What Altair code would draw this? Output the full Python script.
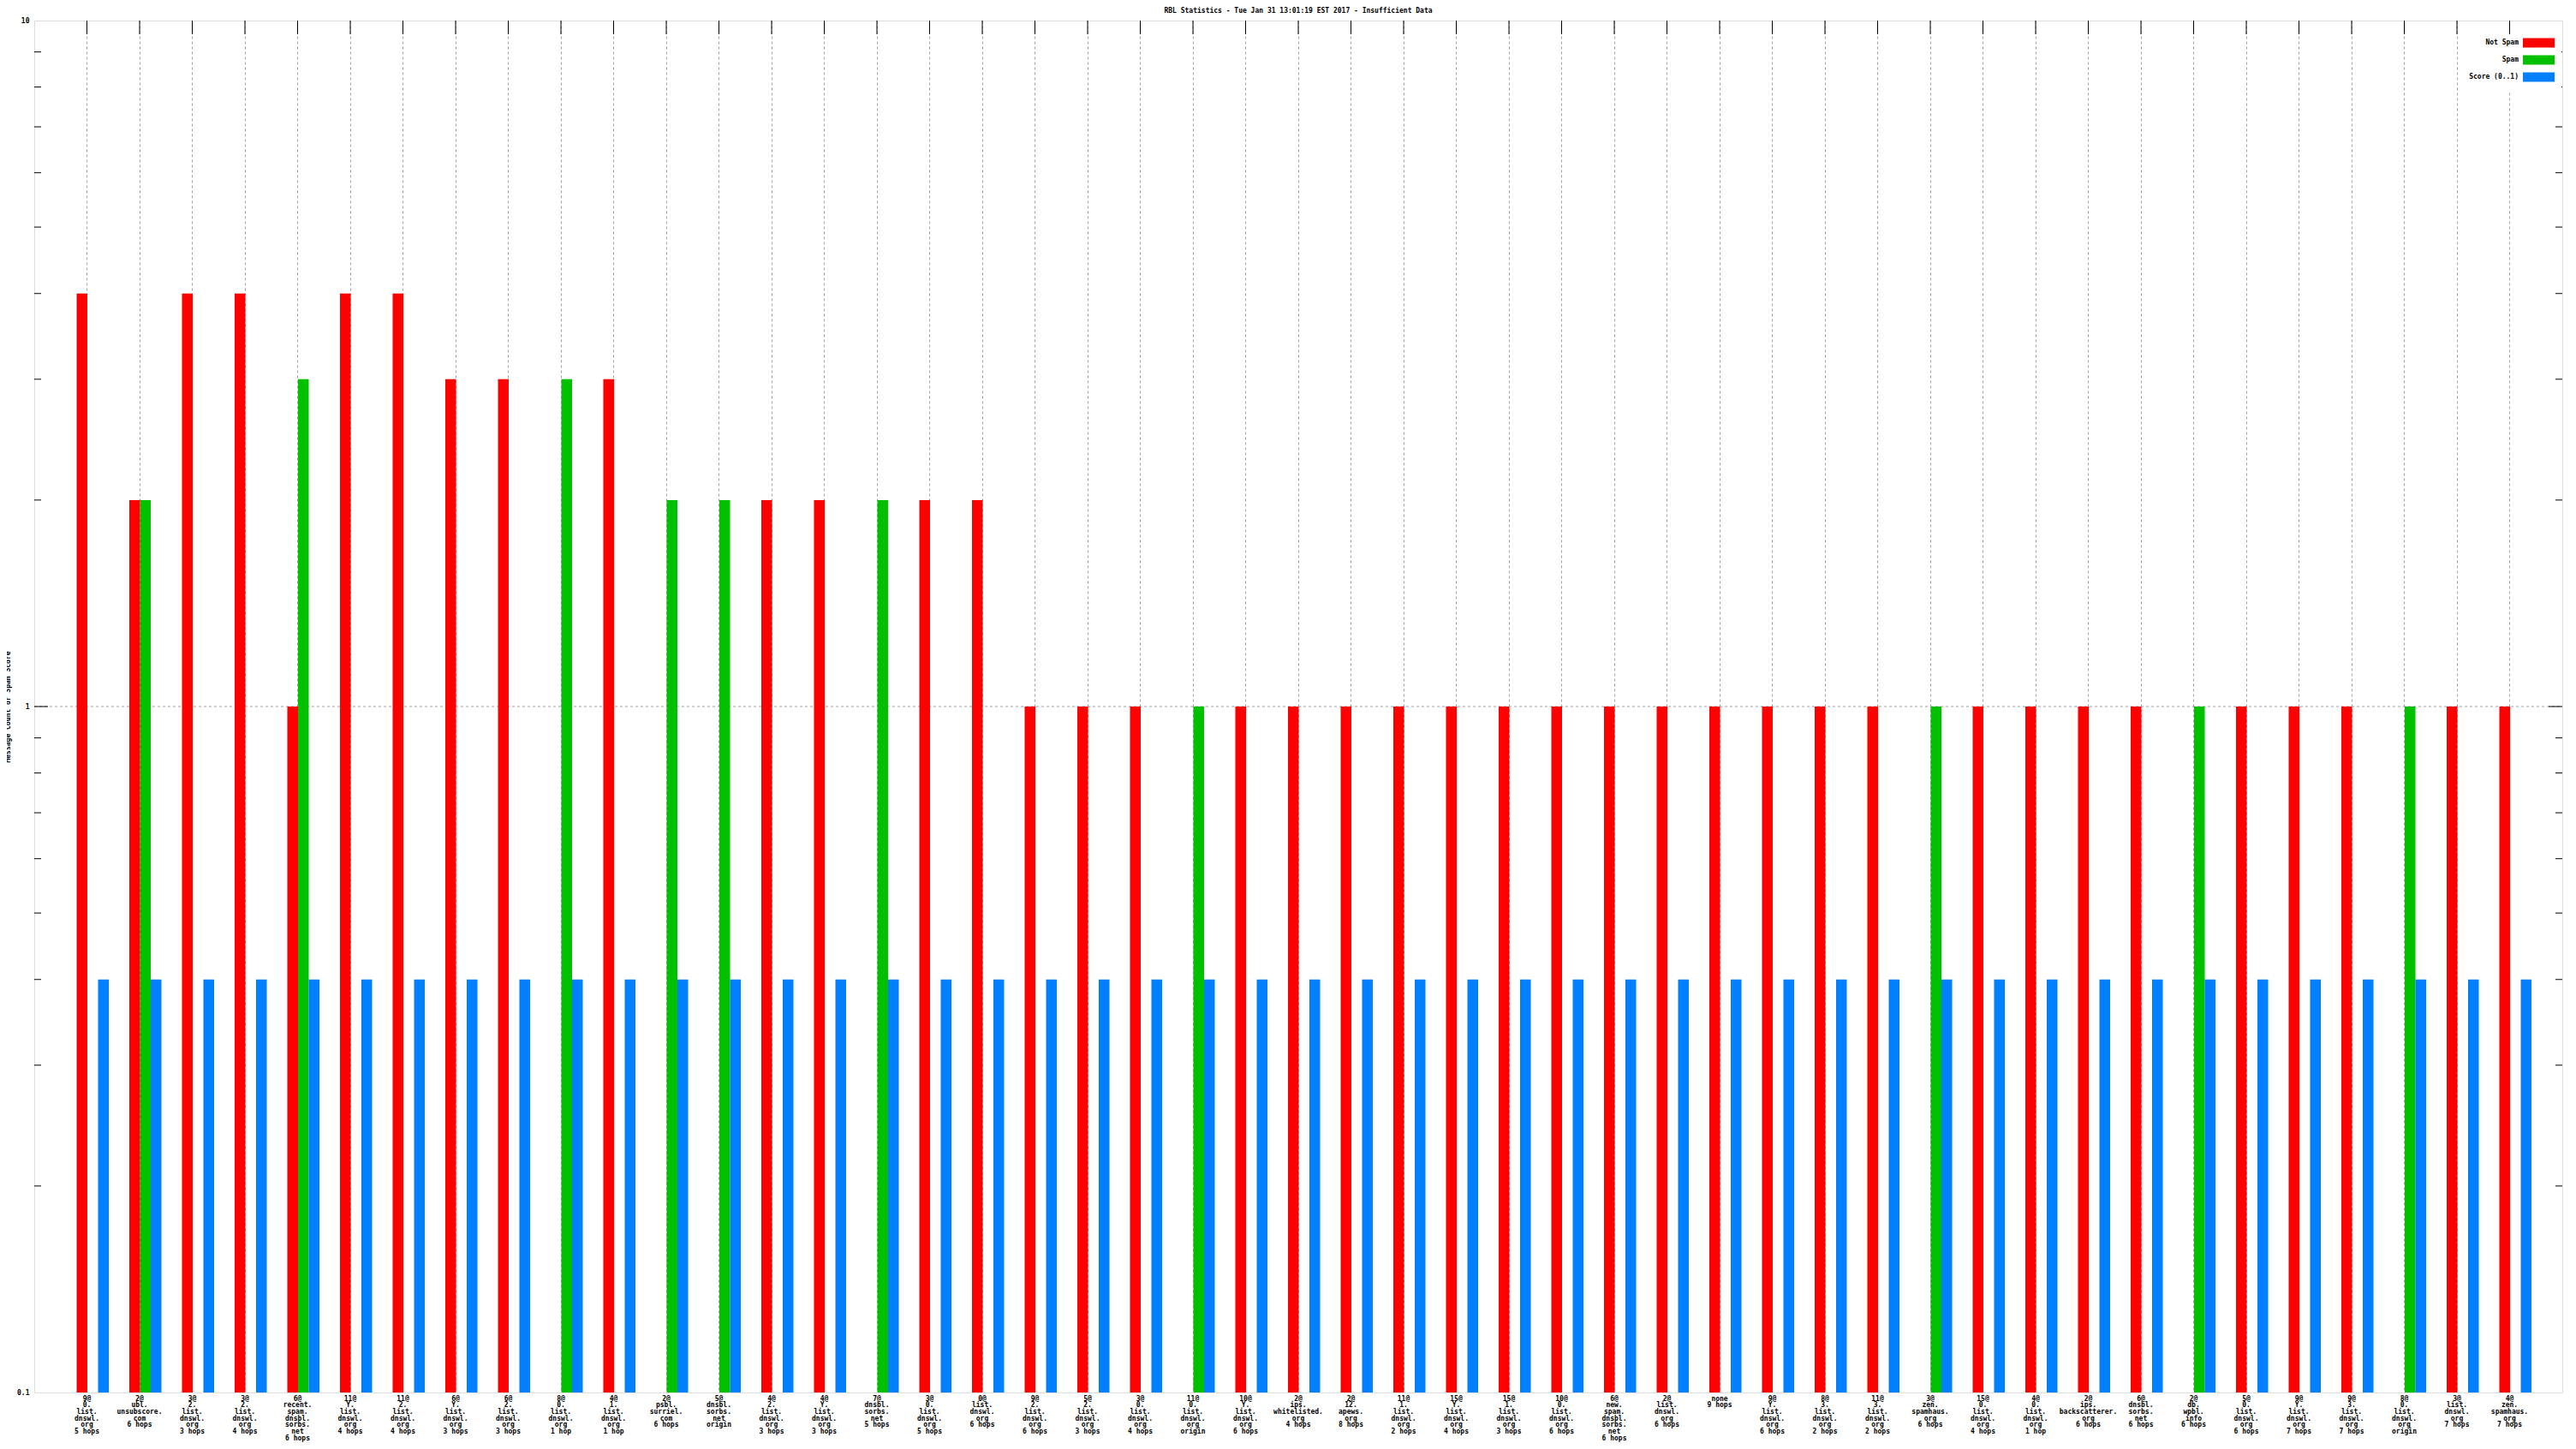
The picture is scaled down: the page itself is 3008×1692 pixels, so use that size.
import json
import altair as alt
import pandas as pd

# ---- data ----
labels = [
    "9@|0.|list.|dnswl.|org|5 hops",
    "2@|ubl.|unsubscore.|com|6 hops",
    "3@|2.|list.|dnswl.|org|3 hops",
    "3@|2.|list.|dnswl.|org|4 hops",
    "6@|recent.|spam.|dnsbl.|sorbs.|net|6 hops",
    "11@|Y.|list.|dnswl.|org|4 hops",
    "11@|2.|list.|dnswl.|org|4 hops",
    "6@|Y.|list.|dnswl.|org|3 hops",
    "6@|2.|list.|dnswl.|org|3 hops",
    "8@|0.|list.|dnswl.|org|1 hop",
    "4@|1.|list.|dnswl.|org|1 hop",
    "2@|psbl.|surriel.|com|6 hops",
    "5@|dnsbl.|sorbs.|net|origin",
    "4@|2.|list.|dnswl.|org|3 hops",
    "4@|Y.|list.|dnswl.|org|3 hops",
    "7@|dnsbl.|sorbs.|net|5 hops",
    "3@|0.|list.|dnswl.|org|5 hops",
    "0@|list.|dnswl.|org|6 hops",
    "9@|2.|list.|dnswl.|org|6 hops",
    "5@|2.|list.|dnswl.|org|3 hops",
    "3@|0.|list.|dnswl.|org|4 hops",
    "11@|0.|list.|dnswl.|org|origin",
    "10@|Y.|list.|dnswl.|org|6 hops",
    "2@|ips.|whitelisted.|org|4 hops",
    "2@|12.|apews.|org|8 hops",
    "11@|1.|list.|dnswl.|org|2 hops",
    "15@|Y.|list.|dnswl.|org|4 hops",
    "15@|1.|list.|dnswl.|org|3 hops",
    "10@|0.|list.|dnswl.|org|6 hops",
    "6@|new.|spam.|dnsbl.|sorbs.|net|6 hops",
    "2@|list.|dnswl.|org|6 hops",
    "none|9 hops",
    "9@|Y.|list.|dnswl.|org|6 hops",
    "8@|3.|list.|dnswl.|org|2 hops",
    "11@|3.|list.|dnswl.|org|2 hops",
    "3@|zen.|spamhaus.|org|6 hops",
    "15@|0.|list.|dnswl.|org|4 hops",
    "4@|0.|list.|dnswl.|org|1 hop",
    "2@|ips.|backscatterer.|org|6 hops",
    "6@|dnsbl.|sorbs.|net|6 hops",
    "2@|db.|wpbl.|info|6 hops",
    "5@|0.|list.|dnswl.|org|6 hops",
    "9@|Y.|list.|dnswl.|org|7 hops",
    "9@|3.|list.|dnswl.|org|7 hops",
    "8@|0.|list.|dnswl.|org|origin",
    "3@|list.|dnswl.|org|7 hops",
    "4@|zen.|spamhaus.|org|7 hops",
]
not_spam = [4, 2, 4, 4, 1, 4, 4, 3, 3, 0, 3, 0, 0, 2, 2, 0, 2, 2, 1, 1, 1, 0, 1, 1,
            1, 1, 1, 1, 1, 1, 1, 1, 1, 1, 1, 0, 1, 1, 1, 1, 0, 1, 1, 1, 0, 1, 1]
spam = [0, 2, 0, 0, 3, 0, 0, 0, 0, 3, 0, 2, 2, 0, 0, 2, 0, 0, 0, 0, 0, 1, 0, 0,
        0, 0, 0, 0, 0, 0, 0, 0, 0, 0, 0, 1, 0, 0, 0, 0, 1, 0, 0, 0, 1, 0, 0]
score = [0.4] * 47
series = ["Not Spam", "Spam", "Score (0..1)"]
colors = ["#ff0000", "#00c000", "#0080ff"]
minor_ticks = [0.2, 0.3, 0.4, 0.5, 0.6, 0.7, 0.8, 0.9, 2, 3, 4, 5, 6, 7, 8, 9]
major_ticks = [1]
y_labels = [0.1, 1, 10]
title = "RBL Statistics - Tue Jan 31 13:01:19 EST 2017 - Insufficient Data"
y_title = "Message Count or Spam Score"

# ---- tables ----
rows = []
for i in range(len(labels)):
    for s, vals in zip(series, [not_spam, spam, score]):
        if vals[i] > 0:
            rows.append({"g": i, "series": s, "value": vals[i]})
bars_df = pd.DataFrame(rows)
groups_df = pd.DataFrame({"g": list(range(len(labels)))})
minor_df = pd.DataFrame({"v": minor_ticks})
major_df = pd.DataFrame({"v": major_ticks})
legend_df = pd.DataFrame({"series": series})

W, H = 2952, 1602
FONT = "DejaVu Sans Mono"
GRID = "#a0a0a0"

label_expr = "split(" + json.dumps(labels) + "[datum.value], '|')"
color_scale = alt.Scale(domain=series, range=colors)

xscale = alt.Scale(paddingInner=0, paddingOuter=0.5)
x_enc = alt.X("g:O", scale=xscale, sort=list(range(len(labels))),
              axis=alt.Axis(title=None, labelExpr=label_expr, labelAngle=0,
                            labelBaseline="top", labelPadding=3, ticks=False,
                            domain=False, labelFont=FONT, labelFontSize=8,
                            labelFontWeight="bold",
                            labelLineHeight=7.7, labelColor="black",
                            grid=True, gridColor=GRID, gridDash=[3, 3],
                            gridWidth=1, labelOverlap=False, labelBound=False))
yscale = alt.Scale(type="log", domain=[0.1, 10], nice=False)

grid1 = alt.Chart(major_df).mark_rule(color=GRID, strokeDash=[3, 3], strokeWidth=1).encode(
    y=alt.Y("v:Q", scale=yscale,
            axis=alt.Axis(values=y_labels, labelExpr="toString(datum.value)",
                          ticks=False, domain=False, grid=False, labelFont=FONT,
                          labelFontSize=8, labelFontWeight="bold",
                          labelColor="black", labelPadding=6,
                          title=y_title, titleFont=FONT, titleFontSize=8,
                          titleFontWeight="bold", titleColor="black",
                          titleX=-31, titleY=H / 2,
                          titleBaseline="middle", titleAlign="center")),
    x=alt.value(0), x2=alt.value(W))

bars = alt.Chart(bars_df).mark_bar(stroke=None).encode(
    x=x_enc,
    xOffset=alt.XOffset("series:N", sort=series,
                        scale=alt.Scale(range=[18.75, 56.25], paddingInner=0, paddingOuter=0)),
    y=alt.Y("value:Q", scale=yscale),
    y2=alt.datum(0.1),
    color=alt.Color("series:N", sort=series, scale=color_scale, legend=None),
)

top_ticks = alt.Chart(groups_df).mark_rule(color="black", strokeWidth=1).encode(
    x=alt.X("g:O", scale=xscale, sort=list(range(len(labels)))),
    y=alt.value(0), y2=alt.value(16))

minor_l = alt.Chart(minor_df).mark_rule(color="black", strokeWidth=1).encode(
    y=alt.Y("v:Q", scale=yscale), x=alt.value(0), x2=alt.value(8))
minor_r = alt.Chart(minor_df).mark_rule(color="black", strokeWidth=1).encode(
    y=alt.Y("v:Q", scale=yscale), x=alt.value(W - 8), x2=alt.value(W))
major_l = alt.Chart(major_df).mark_rule(color="black", strokeWidth=1).encode(
    y=alt.Y("v:Q", scale=yscale), x=alt.value(0), x2=alt.value(16))
major_r = alt.Chart(major_df).mark_rule(color="black", strokeWidth=1).encode(
    y=alt.Y("v:Q", scale=yscale), x=alt.value(W - 16), x2=alt.value(W))

title_mark = alt.Chart(pd.DataFrame({"t": [title]})).mark_text(
    font=FONT, fontSize=8, fontWeight="bold", color="black",
    align="center", baseline="middle").encode(
    text="t:N", x=alt.value(W / 2), y=alt.value(-11))

main = alt.layer(grid1, bars, minor_l, minor_r, major_l, major_r)

# ---- key (legend) in the gnuplot style: text left of a coloured box ----
leg_y = alt.Y("series:N", sort=series, axis=None,
              scale=alt.Scale(type="point", range=[26, 66], padding=0))
leg_box = alt.Chart(legend_df).mark_rect(color="white").encode(
    x=alt.value(W - 118), x2=alt.value(W - 1), y=alt.value(16), y2=alt.value(82))
leg_sym = alt.Chart(legend_df).mark_rule(strokeWidth=11, strokeCap="butt").encode(
    y=leg_y, x=alt.value(W - 46), x2=alt.value(W - 9),
    color=alt.Color("series:N", sort=series, scale=color_scale, legend=None))
leg_txt = alt.Chart(legend_df).mark_text(
    font=FONT, fontSize=8, fontWeight="bold", color="black",
    align="right", baseline="middle").encode(
    y=leg_y, x=alt.value(W - 51), text="series:N")
key = alt.layer(leg_box, leg_sym, leg_txt)

chart = alt.layer(main, key, top_ticks, title_mark).resolve_scale(
    y="independent"
).properties(
    width=W, height=H,
    autosize=alt.AutoSizeParams(type="none"),
    padding={"left": 32, "top": 16, "right": 8, "bottom": 58},
).configure_view(stroke="black", strokeWidth=1).configure(background="white")

chart.save("out.html", embed_options={"renderer": "svg", "actions": False})
